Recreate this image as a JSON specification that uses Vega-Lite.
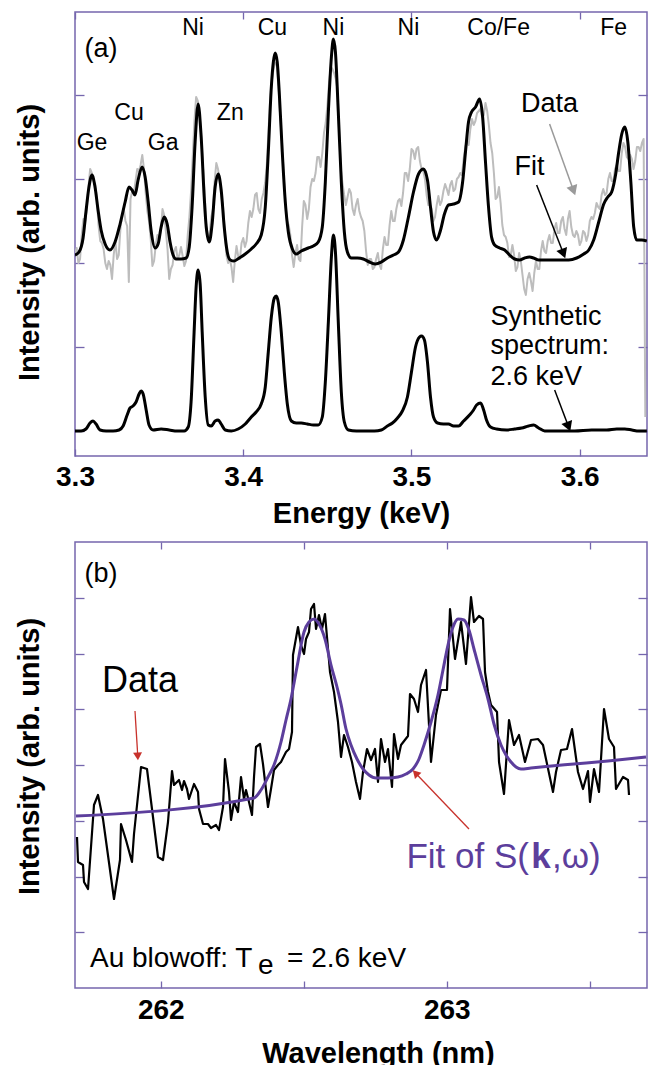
{
  "$schema": "https://vega.github.io/schema/vega-lite/v6.json",
  "padding": {"left": 14, "top": 10, "right": 2, "bottom": 0},
  "bounds": "flush",
  "spacing": 86,
  "config": {
    "view": {"stroke": "#7566ad", "strokeWidth": 1.5},
    "font": "Liberation Sans",
    "axis": {"tickColor": "#7566ad", "tickWidth": 1.3, "labelFont": "Liberation Sans", "labelFontSize": 28, "labelFontWeight": "bold", "labelColor": "#000000", "titleFont": "Liberation Sans", "titleFontSize": 29, "titleFontWeight": "bold", "titleColor": "#000000", "domain": false, "grid": false, "labelFlush": false}
  },
  "datasets": {
    "grayA": [
      {"E":3.300,"v":178},{"E":3.301,"v":183},{"E":3.302,"v":168},{"E":3.303,"v":172},{"E":3.304,"v":196},{"E":3.305,"v":212},{"E":3.306,"v":208},{"E":3.307,"v":222},{"E":3.308,"v":244},{"E":3.309,"v":262},
      {"E":3.310,"v":258},{"E":3.311,"v":250},{"E":3.312,"v":247},{"E":3.313,"v":232},{"E":3.314,"v":205},{"E":3.315,"v":190},{"E":3.316,"v":188},{"E":3.317,"v":182},{"E":3.318,"v":168},{"E":3.319,"v":162},
      {"E":3.320,"v":170},{"E":3.321,"v":166},{"E":3.322,"v":152},{"E":3.323,"v":176},{"E":3.324,"v":190},{"E":3.325,"v":172},{"E":3.326,"v":176},{"E":3.327,"v":202},{"E":3.328,"v":216},{"E":3.329,"v":222},
      {"E":3.330,"v":210},{"E":3.331,"v":205},{"E":3.332,"v":149},{"E":3.333,"v":232},{"E":3.334,"v":240},{"E":3.335,"v":238},{"E":3.336,"v":250},{"E":3.337,"v":262},{"E":3.338,"v":260},{"E":3.339,"v":266},
      {"E":3.340,"v":276},{"E":3.341,"v":262},{"E":3.342,"v":238},{"E":3.343,"v":220},{"E":3.344,"v":210},{"E":3.345,"v":192},{"E":3.346,"v":165},{"E":3.347,"v":170},{"E":3.348,"v":186},{"E":3.349,"v":196},
      {"E":3.350,"v":192},{"E":3.351,"v":200},{"E":3.352,"v":222},{"E":3.353,"v":216},{"E":3.354,"v":200},{"E":3.355,"v":182},{"E":3.356,"v":152},{"E":3.357,"v":162},{"E":3.358,"v":166},{"E":3.359,"v":180},
      {"E":3.360,"v":184},{"E":3.361,"v":172},{"E":3.362,"v":176},{"E":3.363,"v":184},{"E":3.364,"v":175},{"E":3.365,"v":165},{"E":3.366,"v":170},{"E":3.367,"v":196},{"E":3.368,"v":214},{"E":3.369,"v":240},
      {"E":3.370,"v":275},{"E":3.371,"v":310},{"E":3.372,"v":334},{"E":3.373,"v":330},{"E":3.374,"v":318},{"E":3.375,"v":296},{"E":3.376,"v":266},{"E":3.377,"v":240},{"E":3.378,"v":205},{"E":3.379,"v":196},
      {"E":3.380,"v":196},{"E":3.381,"v":214},{"E":3.382,"v":222},{"E":3.383,"v":250},{"E":3.384,"v":268},{"E":3.385,"v":262},{"E":3.386,"v":250},{"E":3.387,"v":234},{"E":3.388,"v":224},{"E":3.389,"v":202},
      {"E":3.390,"v":176},{"E":3.391,"v":168},{"E":3.392,"v":172},{"E":3.393,"v":164},{"E":3.394,"v":149},{"E":3.395,"v":170},{"E":3.396,"v":185},{"E":3.397,"v":175},{"E":3.398,"v":172},{"E":3.399,"v":188},
      {"E":3.400,"v":193},{"E":3.401,"v":184},{"E":3.402,"v":190},{"E":3.403,"v":208},{"E":3.404,"v":220},{"E":3.405,"v":214},{"E":3.406,"v":222},{"E":3.407,"v":236},{"E":3.408,"v":238},{"E":3.409,"v":222},
      {"E":3.410,"v":218},{"E":3.411,"v":232},{"E":3.412,"v":238},{"E":3.413,"v":248},{"E":3.414,"v":266},{"E":3.415,"v":300},{"E":3.416,"v":332},{"E":3.417,"v":350},{"E":3.418,"v":362},{"E":3.419,"v":368},
      {"E":3.420,"v":366},{"E":3.421,"v":342},{"E":3.422,"v":314},{"E":3.423,"v":290},{"E":3.424,"v":258},{"E":3.425,"v":230},{"E":3.426,"v":210},{"E":3.427,"v":206},{"E":3.428,"v":196},{"E":3.429,"v":176},
      {"E":3.430,"v":164},{"E":3.431,"v":178},{"E":3.432,"v":186},{"E":3.433,"v":172},{"E":3.434,"v":170},{"E":3.435,"v":204},{"E":3.436,"v":230},{"E":3.437,"v":226},{"E":3.438,"v":212},{"E":3.439,"v":222},
      {"E":3.440,"v":244},{"E":3.441,"v":252},{"E":3.442,"v":250},{"E":3.443,"v":258},{"E":3.444,"v":274},{"E":3.445,"v":274},{"E":3.446,"v":264},{"E":3.447,"v":278},{"E":3.448,"v":298},{"E":3.449,"v":308},
      {"E":3.450,"v":325},{"E":3.451,"v":348},{"E":3.452,"v":364},{"E":3.453,"v":362},{"E":3.454,"v":358},{"E":3.455,"v":352},{"E":3.456,"v":342},{"E":3.457,"v":300},{"E":3.458,"v":262},{"E":3.459,"v":248},
      {"E":3.460,"v":236},{"E":3.461,"v":226},{"E":3.462,"v":234},{"E":3.463,"v":242},{"E":3.464,"v":238},{"E":3.465,"v":222},{"E":3.466,"v":216},{"E":3.467,"v":226},{"E":3.468,"v":232},{"E":3.469,"v":220},
      {"E":3.470,"v":214},{"E":3.471,"v":210},{"E":3.472,"v":200},{"E":3.473,"v":180},{"E":3.474,"v":166},{"E":3.475,"v":172},{"E":3.476,"v":172},{"E":3.477,"v":162},{"E":3.478,"v":164},{"E":3.479,"v":172},
      {"E":3.480,"v":178},{"E":3.481,"v":166},{"E":3.482,"v":162},{"E":3.483,"v":182},{"E":3.484,"v":194},{"E":3.485,"v":186},{"E":3.486,"v":186},{"E":3.487,"v":206},{"E":3.488,"v":220},{"E":3.489,"v":210},
      {"E":3.490,"v":210},{"E":3.491,"v":222},{"E":3.492,"v":230},{"E":3.493,"v":232},{"E":3.494,"v":225},{"E":3.495,"v":238},{"E":3.496,"v":258},{"E":3.497,"v":258},{"E":3.498,"v":250},{"E":3.499,"v":262},
      {"E":3.500,"v":282},{"E":3.501,"v":280},{"E":3.502,"v":272},{"E":3.503,"v":282},{"E":3.504,"v":284},{"E":3.505,"v":270},{"E":3.506,"v":262},{"E":3.507,"v":260},{"E":3.508,"v":252},{"E":3.509,"v":236},
      {"E":3.510,"v":226},{"E":3.511,"v":226},{"E":3.512,"v":222},{"E":3.513,"v":210},{"E":3.514,"v":214},{"E":3.515,"v":226},{"E":3.516,"v":235},{"E":3.517,"v":226},{"E":3.518,"v":230},{"E":3.519,"v":240},
      {"E":3.520,"v":247},{"E":3.521,"v":242},{"E":3.522,"v":236},{"E":3.523,"v":246},{"E":3.524,"v":250},{"E":3.525,"v":240},{"E":3.526,"v":242},{"E":3.527,"v":252},{"E":3.528,"v":254},{"E":3.529,"v":258},
      {"E":3.530,"v":256},{"E":3.531,"v":272},{"E":3.532,"v":284},{"E":3.533,"v":290},{"E":3.534,"v":286},{"E":3.535,"v":302},{"E":3.536,"v":312},{"E":3.537,"v":306},{"E":3.538,"v":310},{"E":3.539,"v":318},
      {"E":3.540,"v":320},{"E":3.541,"v":322},{"E":3.542,"v":314},{"E":3.543,"v":316},{"E":3.544,"v":328},{"E":3.545,"v":320},{"E":3.546,"v":306},{"E":3.547,"v":288},{"E":3.548,"v":278},{"E":3.549,"v":258},
      {"E":3.550,"v":232},{"E":3.551,"v":234},{"E":3.552,"v":244},{"E":3.553,"v":228},{"E":3.554,"v":206},{"E":3.555,"v":196},{"E":3.556,"v":194},{"E":3.557,"v":188},{"E":3.558,"v":174},{"E":3.559,"v":176},
      {"E":3.560,"v":186},{"E":3.561,"v":176},{"E":3.562,"v":160},{"E":3.563,"v":164},{"E":3.564,"v":178},{"E":3.565,"v":170},{"E":3.566,"v":156},{"E":3.567,"v":142},{"E":3.568,"v":136},{"E":3.569,"v":152},
      {"E":3.570,"v":158},{"E":3.571,"v":150},{"E":3.572,"v":140},{"E":3.573,"v":158},{"E":3.574,"v":170},{"E":3.575,"v":162},{"E":3.576,"v":162},{"E":3.577,"v":180},{"E":3.578,"v":190},{"E":3.579,"v":180},
      {"E":3.580,"v":178},{"E":3.581,"v":190},{"E":3.582,"v":196},{"E":3.583,"v":188},{"E":3.584,"v":188},{"E":3.585,"v":202},{"E":3.586,"v":208},{"E":3.587,"v":198},{"E":3.588,"v":198},{"E":3.589,"v":210},
      {"E":3.590,"v":214},{"E":3.591,"v":202},{"E":3.592,"v":196},{"E":3.593,"v":212},{"E":3.594,"v":220},{"E":3.595,"v":204},{"E":3.596,"v":196},{"E":3.597,"v":194},{"E":3.598,"v":200},{"E":3.599,"v":196},
      {"E":3.600,"v":186},{"E":3.601,"v":190},{"E":3.602,"v":200},{"E":3.603,"v":198},{"E":3.604,"v":190},{"E":3.605,"v":196},{"E":3.606,"v":210},{"E":3.607,"v":214},{"E":3.608,"v":212},{"E":3.609,"v":218},
      {"E":3.610,"v":228},{"E":3.611,"v":224},{"E":3.612,"v":222},{"E":3.613,"v":236},{"E":3.614,"v":242},{"E":3.615,"v":236},{"E":3.616,"v":238},{"E":3.617,"v":252},{"E":3.618,"v":258},{"E":3.619,"v":250},
      {"E":3.620,"v":250},{"E":3.621,"v":262},{"E":3.622,"v":266},{"E":3.623,"v":260},{"E":3.624,"v":260},{"E":3.625,"v":278},{"E":3.626,"v":288},{"E":3.627,"v":284},{"E":3.628,"v":274},{"E":3.629,"v":272},
      {"E":3.630,"v":276},{"E":3.631,"v":272},{"E":3.632,"v":262},{"E":3.633,"v":270},{"E":3.634,"v":284},{"E":3.635,"v":284},{"E":3.636,"v":280},{"E":3.637,"v":288},{"E":3.638,"v":292},{"E":3.639,"v":14}
    ],
    "fitA": [
      {"E":3.3000,"v":176},{"E":3.3024,"v":179},{"E":3.3048,"v":193},{"E":3.3065,"v":219},{"E":3.3083,"v":244},{"E":3.3101,"v":256},{"E":3.3119,"v":244},{"E":3.3137,"v":221},{"E":3.3155,"v":201},{"E":3.3179,"v":187},
      {"E":3.3208,"v":181},{"E":3.3238,"v":189},{"E":3.3268,"v":207},{"E":3.3298,"v":229},{"E":3.3321,"v":244},{"E":3.3339,"v":241},{"E":3.3357,"v":236},{"E":3.3375,"v":251},{"E":3.3399,"v":264},{"E":3.3417,"v":254},
      {"E":3.3435,"v":229},{"E":3.3452,"v":201},{"E":3.3476,"v":183},{"E":3.3494,"v":187},{"E":3.3512,"v":204},{"E":3.3530,"v":214},{"E":3.3548,"v":207},{"E":3.3565,"v":189},{"E":3.3583,"v":176},{"E":3.3601,"v":172},
      {"E":3.3631,"v":172},{"E":3.3661,"v":173},{"E":3.3679,"v":184},{"E":3.3696,"v":224},{"E":3.3714,"v":289},{"E":3.3732,"v":327},{"E":3.3750,"v":294},{"E":3.3768,"v":234},{"E":3.3780,"v":204},{"E":3.3798,"v":189},
      {"E":3.3815,"v":207},{"E":3.3833,"v":244},{"E":3.3851,"v":257},{"E":3.3869,"v":241},{"E":3.3887,"v":204},{"E":3.3905,"v":179},{"E":3.3923,"v":171},{"E":3.3946,"v":170},{"E":3.3976,"v":173},{"E":3.4012,"v":177},
      {"E":3.4048,"v":182},{"E":3.4077,"v":187},{"E":3.4107,"v":196},{"E":3.4131,"v":224},{"E":3.4149,"v":279},{"E":3.4167,"v":344},{"E":3.4179,"v":369},{"E":3.4190,"v":378},{"E":3.4202,"v":369},{"E":3.4214,"v":339},
      {"E":3.4232,"v":279},{"E":3.4250,"v":229},{"E":3.4268,"v":199},{"E":3.4292,"v":182},{"E":3.4315,"v":177},{"E":3.4345,"v":180},{"E":3.4387,"v":183},{"E":3.4417,"v":185},{"E":3.4446,"v":189},{"E":3.4470,"v":204},
      {"E":3.4488,"v":249},{"E":3.4506,"v":319},{"E":3.4524,"v":374},{"E":3.4536,"v":392},{"E":3.4548,"v":379},{"E":3.4565,"v":319},{"E":3.4583,"v":249},{"E":3.4601,"v":199},{"E":3.4619,"v":179},{"E":3.4643,"v":173},
      {"E":3.4679,"v":173},{"E":3.4714,"v":172},{"E":3.4750,"v":169},{"E":3.4786,"v":167},{"E":3.4821,"v":169},{"E":3.4857,"v":173},{"E":3.4893,"v":176},{"E":3.4923,"v":179},{"E":3.4952,"v":191},{"E":3.4982,"v":214},
      {"E":3.5012,"v":239},{"E":3.5042,"v":257},{"E":3.5071,"v":262},{"E":3.5095,"v":251},{"E":3.5113,"v":224},{"E":3.5131,"v":199},{"E":3.5149,"v":191},{"E":3.5173,"v":201},{"E":3.5196,"v":217},{"E":3.5220,"v":226},
      {"E":3.5250,"v":227},{"E":3.5280,"v":229},{"E":3.5304,"v":249},{"E":3.5321,"v":279},{"E":3.5339,"v":309},{"E":3.5357,"v":319},{"E":3.5381,"v":324},{"E":3.5405,"v":332},{"E":3.5423,"v":314},{"E":3.5440,"v":269},
      {"E":3.5458,"v":224},{"E":3.5476,"v":194},{"E":3.5494,"v":186},{"E":3.5524,"v":183},{"E":3.5554,"v":181},{"E":3.5583,"v":176},{"E":3.5613,"v":172},{"E":3.5643,"v":171},{"E":3.5673,"v":173},{"E":3.5702,"v":174},
      {"E":3.5726,"v":173},{"E":3.5756,"v":171},{"E":3.5804,"v":171},{"E":3.5863,"v":171},{"E":3.5935,"v":171},{"E":3.5982,"v":173},{"E":3.6024,"v":177},{"E":3.6054,"v":181},{"E":3.6083,"v":191},{"E":3.6113,"v":209},
      {"E":3.6143,"v":227},{"E":3.6167,"v":234},{"E":3.6190,"v":239},{"E":3.6214,"v":257},{"E":3.6232,"v":279},{"E":3.6250,"v":297},{"E":3.6268,"v":304},{"E":3.6286,"v":289},{"E":3.6304,"v":249},{"E":3.6321,"v":204},
      {"E":3.6339,"v":191},{"E":3.6369,"v":191},{"E":3.6399,"v":190}
    ],
    "synA": [
      {"E":3.3000,"v":0},{"E":3.3036,"v":0},{"E":3.3065,"v":2},{"E":3.3089,"v":8},{"E":3.3107,"v":10},{"E":3.3125,"v":7},{"E":3.3149,"v":1},{"E":3.3185,"v":0},{"E":3.3226,"v":0},{"E":3.3262,"v":1},
      {"E":3.3286,"v":5},{"E":3.3310,"v":16},{"E":3.3327,"v":23},{"E":3.3345,"v":25},{"E":3.3363,"v":29},{"E":3.3381,"v":37},{"E":3.3393,"v":40},{"E":3.3405,"v":37},{"E":3.3423,"v":21},{"E":3.3440,"v":6},
      {"E":3.3464,"v":1},{"E":3.3512,"v":2},{"E":3.3560,"v":1},{"E":3.3607,"v":0},{"E":3.3649,"v":0},{"E":3.3673,"v":4},{"E":3.3690,"v":29},{"E":3.3708,"v":99},{"E":3.3720,"v":144},{"E":3.3732,"v":161},
      {"E":3.3744,"v":147},{"E":3.3756,"v":99},{"E":3.3774,"v":34},{"E":3.3792,"v":6},{"E":3.3810,"v":5},{"E":3.3833,"v":10},{"E":3.3851,"v":11},{"E":3.3869,"v":7},{"E":3.3893,"v":1},{"E":3.3929,"v":0},
      {"E":3.3970,"v":2},{"E":3.4012,"v":7},{"E":3.4048,"v":14},{"E":3.4077,"v":19},{"E":3.4107,"v":27},{"E":3.4131,"v":44},{"E":3.4149,"v":79},{"E":3.4167,"v":114},{"E":3.4185,"v":133},{"E":3.4196,"v":135},
      {"E":3.4208,"v":129},{"E":3.4226,"v":99},{"E":3.4244,"v":59},{"E":3.4262,"v":27},{"E":3.4286,"v":10},{"E":3.4315,"v":8},{"E":3.4345,"v":8},{"E":3.4381,"v":7},{"E":3.4417,"v":6},{"E":3.4446,"v":6},
      {"E":3.4470,"v":14},{"E":3.4488,"v":49},{"E":3.4506,"v":109},{"E":3.4524,"v":174},{"E":3.4536,"v":196},{"E":3.4548,"v":179},{"E":3.4565,"v":109},{"E":3.4583,"v":39},{"E":3.4601,"v":9},{"E":3.4625,"v":1},
      {"E":3.4673,"v":0},{"E":3.4732,"v":0},{"E":3.4780,"v":0},{"E":3.4821,"v":1},{"E":3.4857,"v":5},{"E":3.4887,"v":8},{"E":3.4917,"v":13},{"E":3.4946,"v":20},{"E":3.4976,"v":34},{"E":3.5000,"v":59},
      {"E":3.5024,"v":84},{"E":3.5048,"v":94},{"E":3.5060,"v":95},{"E":3.5077,"v":91},{"E":3.5095,"v":69},{"E":3.5113,"v":34},{"E":3.5131,"v":14},{"E":3.5155,"v":8},{"E":3.5190,"v":7},{"E":3.5220,"v":7},
      {"E":3.5250,"v":5},{"E":3.5280,"v":5},{"E":3.5310,"v":10},{"E":3.5345,"v":16},{"E":3.5369,"v":21},{"E":3.5387,"v":26},{"E":3.5411,"v":28},{"E":3.5429,"v":21},{"E":3.5446,"v":11},{"E":3.5470,"v":4},
      {"E":3.5506,"v":2},{"E":3.5565,"v":1},{"E":3.5613,"v":2},{"E":3.5655,"v":3},{"E":3.5696,"v":5},{"E":3.5726,"v":6},{"E":3.5756,"v":3},{"E":3.5792,"v":0},{"E":3.5863,"v":0},{"E":3.5970,"v":0},
      {"E":3.6071,"v":1},{"E":3.6161,"v":1},{"E":3.6220,"v":2},{"E":3.6268,"v":2},{"E":3.6310,"v":1},{"E":3.6351,"v":0},{"E":3.6399,"v":0}
    ],
    "elemA": [
      {"E":3.3702,"v":396,"t":"Ni"},{"E":3.4173,"v":396,"t":"Cu"},{"E":3.4536,"v":396,"t":"Ni"},{"E":3.4982,"v":396,"t":"Ni"},{"E":3.5518,"v":396,"t":"Co/Fe"},{"E":3.6202,"v":396,"t":"Fe"},
      {"E":3.3321,"v":311,"t":"Cu"},{"E":3.3923,"v":311,"t":"Zn"},{"E":3.3101,"v":281,"t":"Ge"},{"E":3.3524,"v":281,"t":"Ga"}
    ],
    "annA": [
      {"E":3.3155,"v":374,"t":"(a)"},{"E":3.5821,"v":319,"t":"Data"},{"E":3.5702,"v":256,"t":"Fit"}
    ],
    "synText": [
      {"E":3.5470,"v":106,"t":"Synthetic"},{"E":3.5470,"v":77,"t":"spectrum:"},{"E":3.5470,"v":46,"t":"2.6 keV"}
    ],
    "arrowsA": [
      {"a":"Data","E":3.5821,"v":307,"E2":3.5960,"v2":242},
      {"a":"Fit","E":3.5744,"v":246,"E2":3.5900,"v2":179},
      {"a":"Synthetic","E":3.5851,"v":41,"E2":3.5930,"v2":6}
    ],
    "dataB": [
      {"w":261.7070,"v":151},{"w":261.7105,"v":126},{"w":261.7280,"v":123},{"w":261.7315,"v":106},{"w":261.7455,"v":99},{"w":261.7664,"v":183},{"w":261.7804,"v":193},{"w":261.7979,"v":169},{"w":261.8364,"v":89},{"w":261.8573,"v":128},
      {"w":261.8608,"v":164},{"w":261.8783,"v":148},{"w":261.8993,"v":126},{"w":261.9063,"v":154},{"w":261.9308,"v":221},{"w":261.9517,"v":219},{"w":261.9587,"v":203},{"w":261.9902,"v":131},{"w":262.0077,"v":128},{"w":262.0252,"v":166},
      {"w":262.0392,"v":217},{"w":262.0462,"v":203},{"w":262.0636,"v":208},{"w":262.0741,"v":198},{"w":262.0811,"v":207},{"w":262.0916,"v":199},{"w":262.0986,"v":189},{"w":262.1161,"v":204},{"w":262.1301,"v":196},{"w":262.1336,"v":179},
      {"w":262.1476,"v":164},{"w":262.1650,"v":164},{"w":262.1755,"v":160},{"w":262.1930,"v":163},{"w":262.2035,"v":158},{"w":262.2175,"v":181},{"w":262.2245,"v":229},{"w":262.2385,"v":196},{"w":262.2455,"v":168},{"w":262.2559,"v":186},
      {"w":262.2699,"v":176},{"w":262.2804,"v":211},{"w":262.2909,"v":189},{"w":262.2979,"v":198},{"w":262.3084,"v":186},{"w":262.3189,"v":173},{"w":262.3259,"v":211},{"w":262.3329,"v":241},{"w":262.3469,"v":244},{"w":262.3573,"v":224},
      {"w":262.3748,"v":181},{"w":262.3853,"v":199},{"w":262.3958,"v":218},{"w":262.4098,"v":223},{"w":262.4203,"v":226},{"w":262.4378,"v":236},{"w":262.4483,"v":239},{"w":262.4587,"v":256},{"w":262.4622,"v":333},{"w":262.4797,"v":361},
      {"w":262.4902,"v":343},{"w":262.5007,"v":334},{"w":262.5077,"v":349},{"w":262.5182,"v":356},{"w":262.5252,"v":379},{"w":262.5357,"v":384},{"w":262.5427,"v":359},{"w":262.5531,"v":373},{"w":262.5636,"v":359},{"w":262.5741,"v":374},
      {"w":262.5916,"v":316},{"w":262.6056,"v":296},{"w":262.6196,"v":266},{"w":262.6301,"v":231},{"w":262.6406,"v":253},{"w":262.6545,"v":241},{"w":262.6685,"v":226},{"w":262.6825,"v":206},{"w":262.6965,"v":189},{"w":262.7070,"v":216},
      {"w":262.7210,"v":239},{"w":262.7350,"v":228},{"w":262.7490,"v":239},{"w":262.7594,"v":206},{"w":262.7699,"v":249},{"w":262.7839,"v":226},{"w":262.7944,"v":239},{"w":262.8084,"v":201},{"w":262.8154,"v":254},{"w":262.8294,"v":229},
      {"w":262.8399,"v":243},{"w":262.8643,"v":252},{"w":262.8713,"v":294},{"w":262.8853,"v":289},{"w":262.8993,"v":276},{"w":262.9098,"v":303},{"w":262.9273,"v":318},{"w":262.9448,"v":226},{"w":262.9622,"v":273},{"w":262.9797,"v":298},
      {"w":263.0007,"v":298},{"w":263.0112,"v":379},{"w":263.0287,"v":329},{"w":263.0497,"v":366},{"w":263.0671,"v":324},{"w":263.0846,"v":391},{"w":263.0951,"v":366},{"w":263.1126,"v":372},{"w":263.1266,"v":369},{"w":263.1336,"v":316},
      {"w":263.1441,"v":296},{"w":263.1546,"v":283},{"w":263.1756,"v":276},{"w":263.1826,"v":226},{"w":263.2000,"v":194},{"w":263.2175,"v":268},{"w":263.2350,"v":243},{"w":263.2525,"v":253},{"w":263.2734,"v":226},{"w":263.2944,"v":248},
      {"w":263.3189,"v":249},{"w":263.3364,"v":243},{"w":263.3713,"v":196},{"w":263.3818,"v":216},{"w":263.3993,"v":238},{"w":263.4203,"v":239},{"w":263.4378,"v":259},{"w":263.4587,"v":216},{"w":263.4762,"v":199},{"w":263.4937,"v":217},
      {"w":263.5007,"v":186},{"w":263.5147,"v":219},{"w":263.5322,"v":196},{"w":263.5497,"v":279},{"w":263.5671,"v":249},{"w":263.5846,"v":241},{"w":263.5916,"v":199},{"w":263.6161,"v":211},{"w":263.6336,"v":208},{"w":263.6371,"v":193}
    ],
    "fitB": [
      {"w":261.7035,"v":172},{"w":262.3259,"v":190},{"w":262.3503,"v":198},{"w":262.3748,"v":211},{"w":262.3958,"v":223},{"w":262.4203,"v":246},{"w":262.4378,"v":268},{"w":262.4552,"v":289},{"w":262.4762,"v":321},{"w":262.5007,"v":356},
      {"w":262.5182,"v":366},{"w":262.5357,"v":369},{"w":262.5531,"v":364},{"w":262.5741,"v":349},{"w":262.5951,"v":323},{"w":262.6161,"v":301},{"w":262.6301,"v":284},{"w":262.6476,"v":259},{"w":262.6650,"v":243},{"w":262.6860,"v":229},
      {"w":262.7070,"v":219},{"w":262.7280,"v":213},{"w":262.7524,"v":210},{"w":262.7944,"v":210},{"w":262.8294,"v":211},{"w":262.8573,"v":214},{"w":262.8818,"v":219},{"w":262.9028,"v":229},{"w":262.9203,"v":243},{"w":262.9448,"v":266},
      {"w":262.9692,"v":293},{"w":262.9867,"v":318},{"w":263.0042,"v":343},{"w":263.0217,"v":361},{"w":263.0392,"v":369},{"w":263.0601,"v":368},{"w":263.0776,"v":358},{"w":263.0951,"v":339},{"w":263.1196,"v":313},{"w":263.1441,"v":289},
      {"w":263.1650,"v":264},{"w":263.1895,"v":243},{"w":263.2070,"v":233},{"w":263.2245,"v":226},{"w":263.2420,"v":221},{"w":263.2594,"v":219},{"w":263.2944,"v":220},{"w":263.3294,"v":221},{"w":263.4448,"v":224},{"w":263.5636,"v":227},
      {"w":263.6965,"v":231}
    ],
    "arrowsB": [
      {"a":"Data","w":261.9098,"v":277,"w2":261.9192,"v2":233},
      {"a":"Fit","w":263.0776,"v":159,"w2":262.8937,"v2":214}
    ]
  },
  "vconcat": [
    {
      "width": 572,
      "height": 444,
      "resolve": {"axis": {"x": "independent", "y": "independent"}},
      "layer": [
        {
          "data": {"name": "grayA"},
          "mark": {"type": "line", "color": "#bdbdbd", "strokeWidth": 2, "strokeJoin": "round", "clip": true},
          "encoding": {
            "x": {"field": "E", "type": "quantitative", "scale": {"domain": [3.3, 3.64], "nice": false, "zero": false},
                  "axis": {"orient": "bottom", "values": [3.3, 3.4, 3.5, 3.6], "format": ".1f", "tickSize": -7, "labelPadding": 14, "title": "Energy (keV)", "titlePadding": 8}},
            "y": {"field": "v", "type": "quantitative", "scale": {"domain": [-25, 419], "nice": false, "zero": false},
                  "axis": {"orient": "left", "values": [0, 84, 168, 252, 336], "tickSize": -9, "labels": false, "title": "Intensity (arb. units)", "titlePadding": 30, "titleY": 230}}
          }
        },
        {
          "data": {"name": "fitA"},
          "mark": {"type": "line", "color": "#000000", "strokeWidth": 3, "interpolate": "monotone", "strokeJoin": "round", "clip": true},
          "encoding": {
            "x": {"field": "E", "type": "quantitative", "scale": {"domain": [3.3, 3.64], "nice": false, "zero": false},
                  "axis": {"orient": "top", "values": [3.3, 3.4, 3.5, 3.6], "tickSize": -7, "labels": false, "title": null}},
            "y": {"field": "v", "type": "quantitative", "scale": {"domain": [-25, 419], "nice": false, "zero": false},
                  "axis": {"orient": "right", "values": [0, 84, 168, 252, 336], "tickSize": -9, "labels": false, "title": null}}
          }
        },
        {
          "data": {"name": "synA"},
          "mark": {"type": "line", "color": "#000000", "strokeWidth": 3, "interpolate": "monotone", "strokeJoin": "round", "clip": true},
          "encoding": {
            "x": {"field": "E", "type": "quantitative", "axis": null},
            "y": {"field": "v", "type": "quantitative", "axis": null}
          }
        },
        {
          "data": {"name": "arrowsA"},
          "mark": {"type": "rule", "strokeWidth": 1.5},
          "encoding": {
            "x": {"field": "E", "type": "quantitative", "axis": null},
            "y": {"field": "v", "type": "quantitative", "axis": null},
            "x2": {"field": "E2"},
            "y2": {"field": "v2"},
            "color": {"field": "a", "type": "nominal", "scale": {"domain": ["Data", "Fit", "Synthetic"], "range": ["#9a9a9a", "#000000", "#000000"]}, "legend": null}
          }
        },
        {
          "data": {"values": [{"E": 3.5960, "v": 242}]},
          "mark": {"type": "point", "shape": "triangle", "filled": true, "color": "#9a9a9a", "size": 130, "angle": 160, "opacity": 1},
          "encoding": {
            "x": {"field": "E", "type": "quantitative", "axis": null},
            "y": {"field": "v", "type": "quantitative", "axis": null}
          }
        },
        {
          "data": {"values": [{"E": 3.5900, "v": 179}, {"E": 3.5930, "v": 6}]},
          "mark": {"type": "point", "shape": "triangle", "filled": true, "color": "#000000", "size": 130, "angle": 159, "opacity": 1},
          "encoding": {
            "x": {"field": "E", "type": "quantitative", "axis": null},
            "y": {"field": "v", "type": "quantitative", "axis": null}
          }
        },
        {
          "data": {"name": "elemA"},
          "mark": {"type": "text", "font": "Liberation Sans", "fontSize": 23, "align": "center", "baseline": "alphabetic", "color": "#000000"},
          "encoding": {
            "x": {"field": "E", "type": "quantitative", "axis": null},
            "y": {"field": "v", "type": "quantitative", "axis": null},
            "text": {"field": "t"}
          }
        },
        {
          "data": {"name": "annA"},
          "mark": {"type": "text", "font": "Liberation Sans", "fontSize": 27, "align": "center", "baseline": "alphabetic", "color": "#000000"},
          "encoding": {
            "x": {"field": "E", "type": "quantitative", "axis": null},
            "y": {"field": "v", "type": "quantitative", "axis": null},
            "text": {"field": "t"}
          }
        },
        {
          "data": {"name": "synText"},
          "mark": {"type": "text", "font": "Liberation Sans", "fontSize": 27, "align": "left", "baseline": "alphabetic", "color": "#000000"},
          "encoding": {
            "x": {"field": "E", "type": "quantitative", "axis": null},
            "y": {"field": "v", "type": "quantitative", "axis": null},
            "text": {"field": "t"}
          }
        }
      ]
    },
    {
      "width": 572,
      "height": 446,
      "resolve": {"axis": {"x": "independent", "y": "independent"}},
      "layer": [
        {
          "data": {"name": "dataB"},
          "mark": {"type": "line", "color": "#000000", "strokeWidth": 2.2, "strokeJoin": "round", "clip": true},
          "encoding": {
            "x": {"field": "w", "type": "quantitative", "scale": {"domain": [261.7, 263.7], "nice": false, "zero": false},
                  "axis": {"orient": "bottom", "values": [262, 262.5, 263, 263.5], "format": ".1f", "labelExpr": "datum.value % 1 === 0 ? format(datum.value, 'd') : ''", "tickSize": -7, "labelPadding": 15, "title": "Wavelength (nm)", "titlePadding": 15, "titleX": 303}},
            "y": {"field": "v", "type": "quantitative", "scale": {"domain": [0, 446], "nice": false, "zero": false},
                  "axis": {"orient": "left", "values": [55.75, 111.5, 167.25, 223, 278.75, 334.5, 390.25], "tickSize": -9, "labels": false, "title": "Intensity (arb. units)", "titlePadding": 30, "titleY": 214}}
          }
        },
        {
          "data": {"name": "fitB"},
          "mark": {"type": "line", "color": "#5c3e9c", "strokeWidth": 3, "interpolate": "monotone", "strokeJoin": "round", "clip": true},
          "encoding": {
            "x": {"field": "w", "type": "quantitative", "scale": {"domain": [261.7, 263.7], "nice": false, "zero": false},
                  "axis": {"orient": "top", "values": [262, 262.5, 263, 263.5], "tickSize": -7, "labels": false, "title": null}},
            "y": {"field": "v", "type": "quantitative", "scale": {"domain": [0, 446], "nice": false, "zero": false},
                  "axis": {"orient": "right", "values": [55.75, 111.5, 167.25, 223, 278.75, 334.5, 390.25], "tickSize": -9, "labels": false, "title": null}}
          }
        },
        {
          "data": {"name": "arrowsB"},
          "mark": {"type": "rule", "strokeWidth": 1.3, "color": "#c8322c"},
          "encoding": {
            "x": {"field": "w", "type": "quantitative", "axis": null},
            "y": {"field": "v", "type": "quantitative", "axis": null},
            "x2": {"field": "w2"},
            "y2": {"field": "v2"}
          }
        },
        {
          "data": {"values": [{"w": 261.9192, "v": 233}]},
          "mark": {"type": "point", "shape": "triangle", "filled": true, "color": "#c8322c", "size": 80, "angle": 177, "opacity": 1},
          "encoding": {
            "x": {"field": "w", "type": "quantitative", "axis": null},
            "y": {"field": "v", "type": "quantitative", "axis": null}
          }
        },
        {
          "data": {"values": [{"w": 262.8937, "v": 214}]},
          "mark": {"type": "point", "shape": "triangle", "filled": true, "color": "#c8322c", "size": 80, "angle": 316, "opacity": 1},
          "encoding": {
            "x": {"field": "w", "type": "quantitative", "axis": null},
            "y": {"field": "v", "type": "quantitative", "axis": null}
          }
        },
        {
          "data": {"values": [{"w": 261.7909, "v": 406, "t": "(b)"}]},
          "mark": {"type": "text", "font": "Liberation Sans", "fontSize": 27, "align": "center", "baseline": "alphabetic", "color": "#000000"},
          "encoding": {
            "x": {"field": "w", "type": "quantitative", "axis": null},
            "y": {"field": "v", "type": "quantitative", "axis": null},
            "text": {"field": "t"}
          }
        },
        {
          "data": {"values": [{"w": 261.9273, "v": 296, "t": "Data"}]},
          "mark": {"type": "text", "font": "Liberation Sans", "fontSize": 36, "align": "center", "baseline": "alphabetic", "color": "#000000"},
          "encoding": {
            "x": {"field": "w", "type": "quantitative", "axis": null},
            "y": {"field": "v", "type": "quantitative", "axis": null},
            "text": {"field": "t"}
          }
        },
        {
          "data": {"values": [{"w": 263.2874, "v": 120, "t": "Fit of S("}]},
          "mark": {"type": "text", "font": "Liberation Sans", "fontSize": 35, "align": "right", "baseline": "alphabetic", "color": "#5c3e9c"},
          "encoding": {
            "x": {"field": "w", "type": "quantitative", "axis": null},
            "y": {"field": "v", "type": "quantitative", "axis": null},
            "text": {"field": "t"}
          }
        },
        {
          "data": {"values": [{"w": 263.3294, "v": 120, "t": "k"}]},
          "mark": {"type": "text", "font": "Liberation Sans", "fontSize": 35, "fontWeight": "bold", "align": "center", "baseline": "alphabetic", "color": "#5c3e9c"},
          "encoding": {
            "x": {"field": "w", "type": "quantitative", "axis": null},
            "y": {"field": "v", "type": "quantitative", "axis": null},
            "text": {"field": "t"}
          }
        },
        {
          "data": {"values": [{"w": 263.3678, "v": 120, "t": ",ω)"}]},
          "mark": {"type": "text", "font": "Liberation Sans", "fontSize": 35, "align": "left", "baseline": "alphabetic", "color": "#5c3e9c"},
          "encoding": {
            "x": {"field": "w", "type": "quantitative", "axis": null},
            "y": {"field": "v", "type": "quantitative", "axis": null},
            "text": {"field": "t"}
          }
        },
        {
          "data": {"values": [{"w": 261.7524, "v": 21, "t": "Au blowoff: T"}, {"w": 262.3399, "v": 14, "t": "e"}, {"w": 262.4413, "v": 21, "t": "= 2.6 keV"}]},
          "mark": {"type": "text", "font": "Liberation Sans", "fontSize": 28, "align": "left", "baseline": "alphabetic", "color": "#000000"},
          "encoding": {
            "x": {"field": "w", "type": "quantitative", "axis": null},
            "y": {"field": "v", "type": "quantitative", "axis": null},
            "text": {"field": "t"}
          }
        }
      ]
    }
  ]
}
